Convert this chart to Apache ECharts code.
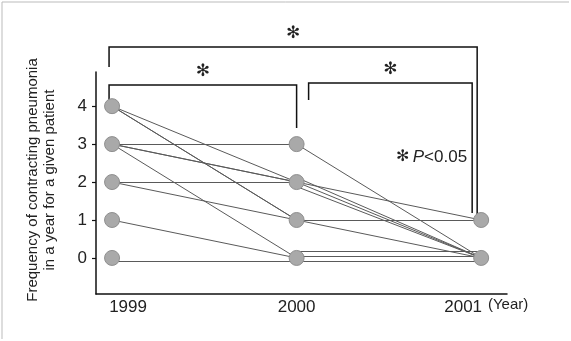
<!DOCTYPE html>
<html><head><meta charset="utf-8">
<script src="https://cdn.jsdelivr.net/npm/echarts@6/dist/echarts.min.js"></script>
<style>html,body{margin:0;padding:0;background:#fff}#c{width:571px;height:341px}</style>
</head><body><div id="c"></div>
<script>
// ---- data ----
const years = [1999, 2000, 2001];
const yTickValues = [0, 1, 2, 3, 4];
// patient lines 1999 -> 2000
const from1999 = [4, 4, 4, 3, 3, 3, 3, 2, 2, 1, -0.1];
const to2000   = [2, 1, 1, 3, 2, 2, 0, 2, 1, 0, -0.1];
// patient lines 2000 -> 2001
const from2000 = [3, 2, 2.12, 2, 1.88, 1, 1, 0.18, 0.05, -0.1];
const to2001   = [0, 1, 0, 0, 0, 1, 0, 0.18, 0.05, -0.1];
// dots
const dots1999 = [4, 3, 2, 1, 0];
const dots2000 = [3, 2, 1, 0];
const dots2001 = [1, 0];
// significance comparisons
const comparisons = [[1999, 2001], [1999, 2000], [2000, 2001]];
const sigMark = '\u273B';
const yTitle = 'Frequency of contracting pneumonia\nin a year for a given patient';
const xUnit = '(Year)';

const FONT = '"Liberation Sans", Arial, sans-serif';
const chart = echarts.init(document.getElementById('c'));

const seg1 = from1999.map((v, i) => ({ coords: [[years[0], v], [years[1], to2000[i]]] }));
const seg2 = from2000.map((v, i) => ({ coords: [[years[1], v], [years[2], to2001[i]]] }));
const dots = [].concat(
  dots1999.map(v => [years[0], v]),
  dots2000.map(v => [years[1], v]),
  dots2001.map(v => [years[2], v])
);

chart.setOption({
  animation: false,
  backgroundColor: '#fff',
  grid: { left: 96, right: 64, top: 72, bottom: 47 },
  xAxis: {
    type: 'value', min: 1998.913, max: 2001.14,
    splitLine: { show: false },
    axisLine: { show: true, onZero: false, lineStyle: { color: '#111', width: 1.5 } },
    axisTick: { show: false },
    axisLabel: {
      customValues: years,
      margin: 5,
      fontFamily: FONT, fontSize: 17, color: '#222',
      formatter: v => v === 1999 ? '{l|1999}' : (v === 2001 ? '{r|2001}' : '{m|' + v + '}'),
      rich: {
        l: { fontFamily: FONT, fontSize: 17, color: '#222', padding: [0, 0, 0, 32] },
        m: { fontFamily: FONT, fontSize: 17, color: '#222' },
        r: { fontFamily: FONT, fontSize: 17, color: '#222', padding: [0, 36, 0, 0] }
      }
    }
  },
  yAxis: {
    type: 'value', min: -0.95, max: 4.9,
    splitLine: { show: false },
    axisLine: { show: true, onZero: false, lineStyle: { color: '#111', width: 1.5 } },
    axisTick: { show: true, customValues: yTickValues, length: 4, lineStyle: { color: '#111', width: 1.2 } },
    axisLabel: { customValues: yTickValues, margin: 9, fontFamily: FONT, fontSize: 17, color: '#222' }
  },
  series: [
    { type: 'lines', coordinateSystem: 'cartesian2d', data: seg1, z: 2,
      lineStyle: { color: '#5a5a5a', width: 1, opacity: 1 } },
    { type: 'lines', coordinateSystem: 'cartesian2d', data: seg2, z: 2,
      lineStyle: { color: '#5a5a5a', width: 1, opacity: 1 } },
    { type: 'scatter', data: dots, symbol: 'circle', symbolSize: 15, z: 5,
      itemStyle: { color: '#a9a9a9', borderColor: '#8f8f8f', borderWidth: 1, opacity: 1 } }
  ]
});

// annotation layer: brackets anchored to the axis scale
const px = x => chart.convertToPixel({ gridIndex: 0 }, [x, 0])[0];
const bracketLayout = [
  { top: 47, leftDrop: 67, rightDrop: 215, dl: -3, dr: -4 },
  { top: 85, leftDrop: 100, rightDrop: 128, dl: -3, dr: 0 },
  { top: 83, leftDrop: 100, rightDrop: 213, dl: 12, dr: -9 }
];
const g = [];
comparisons.forEach((c, i) => {
  const L = bracketLayout[i];
  const x1 = px(c[0]) + L.dl, x2 = px(c[1]) + L.dr;
  g.push({ type: 'polyline', shape: { points: [[x1, L.leftDrop], [x1, L.top], [x2, L.top], [x2, L.rightDrop]] },
    style: { stroke: '#111', lineWidth: 1.5, fill: null } });
  g.push({ type: 'text', x: (x1 + x2) / 2, y: L.top - 13,
    style: { text: sigMark, fontFamily: '"DejaVu Sans", sans-serif', fontSize: 17, fill: '#222', align: 'center', verticalAlign: 'middle' } });
});
g.push({ type: 'text', x: 396, y: 157,
  style: { text: '{a|' + sigMark + '} {p|P}{b|<0.05}', verticalAlign: 'middle', align: 'left',
    rich: {
      a: { fontFamily: '"DejaVu Sans", sans-serif', fontSize: 16, fill: '#222' },
      p: { fontFamily: FONT, fontSize: 17, fontStyle: 'italic', fill: '#222' },
      b: { fontFamily: FONT, fontSize: 17, fill: '#222' }
    } } });
g.push({ type: 'text', x: 41, y: 180, rotation: Math.PI / 2,
  style: { text: yTitle, fontFamily: FONT, fontSize: 15, lineHeight: 17, fill: '#222', align: 'center', verticalAlign: 'middle' } });
g.push({ type: 'text', x: 488, y: 305,
  style: { text: xUnit, fontFamily: FONT, fontSize: 15, fill: '#222', align: 'left', verticalAlign: 'middle' } });
g.push({ type: 'line', shape: { x1: 2, y1: 2, x2: 2, y2: 339 }, style: { stroke: '#bbb', lineWidth: 1 } });
g.push({ type: 'line', shape: { x1: 2, y1: 2, x2: 569, y2: 2 }, style: { stroke: '#bbb', lineWidth: 1 } });
chart.setOption({ graphic: g });
</script>
</body></html>
